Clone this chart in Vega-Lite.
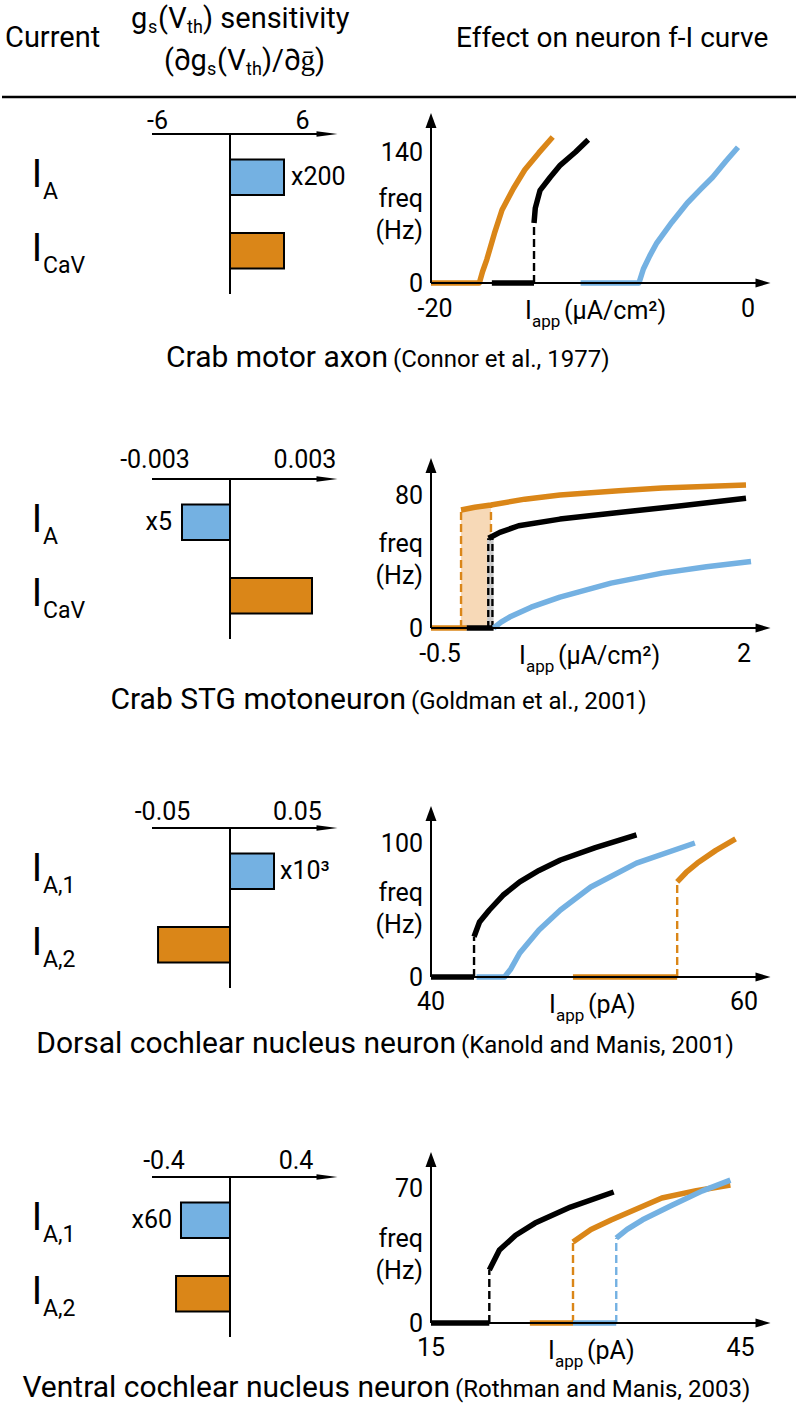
{
"$schema": "https://vega.github.io/schema/vega-lite/v6.json",
"padding": 0,
"background": "white",
"bounds": "flush",
"spacing": 0,
"resolve": {"scale": {"color": "independent"}},
"config": {"view": {"stroke": null}, "font": "Roboto", "axis": {"disable": true}, "legend": {"disable": true}, "text": {"font": "Roboto", "color": "black"}},
"vconcat": [
{
 "width": 796, "height": 134,
 "data": {"values": [{}]},
 "layer": [
  {"mark": {"type": "rule", "strokeWidth": 2.5, "color": "black"}, "encoding": {"y": {"datum": 0.72388, "type": "quantitative", "scale": {"domain": [0, 1], "reverse": true, "nice": false, "zero": false}}}},
  {"mark": {"type": "text", "text": "Current", "align": "left", "baseline": "alphabetic", "fontSize": 29}, "encoding": {"x": {"datum": 0.00377, "type": "quantitative", "scale": {"domain": [0, 1], "nice": false, "zero": false}}, "y": {"datum": 0.35075, "type": "quantitative"}}},
  {"mark": {"type": "text", "text": "g", "align": "left", "baseline": "alphabetic", "fontSize": 29}, "encoding": {"x": {"datum": 0.16206, "type": "quantitative"}, "y": {"datum": 0.20896, "type": "quantitative"}}},
  {"mark": {"type": "text", "text": "s", "align": "left", "baseline": "alphabetic", "fontSize": 18}, "encoding": {"x": {"datum": 0.18342, "type": "quantitative"}, "y": {"datum": 0.24627, "type": "quantitative"}}},
  {"mark": {"type": "text", "text": "(V", "align": "left", "baseline": "alphabetic", "fontSize": 29}, "encoding": {"x": {"datum": 0.19598, "type": "quantitative"}, "y": {"datum": 0.20896, "type": "quantitative"}}},
  {"mark": {"type": "text", "text": "th", "align": "left", "baseline": "alphabetic", "fontSize": 18}, "encoding": {"x": {"datum": 0.23241, "type": "quantitative"}, "y": {"datum": 0.24627, "type": "quantitative"}}},
  {"mark": {"type": "text", "text": ") sensitivity", "align": "left", "baseline": "alphabetic", "fontSize": 29}, "encoding": {"x": {"datum": 0.25251, "type": "quantitative"}, "y": {"datum": 0.20896, "type": "quantitative"}}},
  {"mark": {"type": "text", "text": "(∂g", "align": "left", "baseline": "alphabetic", "fontSize": 29}, "encoding": {"x": {"datum": 0.20352, "type": "quantitative"}, "y": {"datum": 0.52239, "type": "quantitative"}}},
  {"mark": {"type": "text", "text": "s", "align": "left", "baseline": "alphabetic", "fontSize": 18}, "encoding": {"x": {"datum": 0.25754, "type": "quantitative"}, "y": {"datum": 0.55970, "type": "quantitative"}}},
  {"mark": {"type": "text", "text": "(V", "align": "left", "baseline": "alphabetic", "fontSize": 29}, "encoding": {"x": {"datum": 0.27010, "type": "quantitative"}, "y": {"datum": 0.52239, "type": "quantitative"}}},
  {"mark": {"type": "text", "text": "th", "align": "left", "baseline": "alphabetic", "fontSize": 18}, "encoding": {"x": {"datum": 0.30653, "type": "quantitative"}, "y": {"datum": 0.55970, "type": "quantitative"}}},
  {"mark": {"type": "text", "text": ")/∂ḡ)", "align": "left", "baseline": "alphabetic", "fontSize": 29}, "encoding": {"x": {"datum": 0.32663, "type": "quantitative"}, "y": {"datum": 0.52239, "type": "quantitative"}}},
  {"mark": {"type": "text", "text": "Effect on neuron f-I curve", "align": "left", "baseline": "alphabetic", "fontSize": 28}, "encoding": {"x": {"datum": 0.57035, "type": "quantitative"}, "y": {"datum": 0.35075, "type": "quantitative"}}}
 ]
},
{
 "width": 796, "height": 160,
 "resolve": {"scale": {"x": "independent", "y": "independent", "color": "independent"}},
 "layer": [
  {
   "resolve": {"scale": {"y": "independent"}},
   "layer": [
    {
     "data": {"values": [{"c": "A", "v": 4.47, "m": "x200"}, {"c": "CaV", "v": 4.47, "m": ""}]},
     "layer": [
      {"mark": {"type": "bar", "stroke": "black", "strokeWidth": 2, "opacity": 1},
       "encoding": {
        "x": {"field": "v", "type": "quantitative", "scale": {"domain": [-18.874, 47.020], "nice": false, "zero": false}},
        "x2": {"datum": 0},
        "y": {"field": "c", "type": "nominal", "scale": {"paddingInner": 0.517, "paddingOuter": 0.347}},
        "color": {"field": "c", "type": "nominal", "scale": {"domain": ["A", "CaV"], "range": ["#74b1e2", "#da8618"]}}
       }},
      {"mark": {"type": "text", "align": "left", "baseline": "middle", "dx": 7, "fontSize": 25},
       "encoding": {"x": {"field": "v", "type": "quantitative"}, "y": {"field": "c", "type": "nominal"}, "text": {"field": "m"}}},
      {"mark": {"type": "text", "text": "I", "align": "center", "baseline": "alphabetic", "dy": 10, "fontSize": 38},
       "encoding": {"x": {"datum": -15.977, "type": "quantitative"}, "y": {"field": "c", "type": "nominal"}}},
      {"mark": {"type": "text", "align": "left", "baseline": "alphabetic", "dy": 22, "fontSize": 23},
       "encoding": {"x": {"datum": -15.480, "type": "quantitative"}, "y": {"field": "c", "type": "nominal"}, "text": {"field": "c"}}}
     ]
    },
    {
     "layer": [
      {"data": {"values": [{}]}, "mark": {"type": "rule", "strokeWidth": 2}, "encoding": {"x": {"datum": 0, "type": "quantitative"}}},
      {"data": {"values": [{}]}, "mark": {"type": "rule", "strokeWidth": 2}, "encoding": {"x": {"datum": -6.457, "type": "quantitative"}, "x2": {"datum": 8.030}, "y": {"datum": 1, "type": "quantitative", "scale": {"domain": [0, 1], "nice": false, "zero": false}}}},
      {"data": {"values": [{}]}, "mark": {"type": "point", "shape": "M-1,-0.26L1,0L-1,0.26Z", "size": 441, "filled": true, "color": "black", "opacity": 1}, "encoding": {"x": {"datum": 8.030, "type": "quantitative"}, "y": {"datum": 1, "type": "quantitative"}}},
      {"data": {"values": [{"tick": -6}, {"tick": 6}]}, "mark": {"type": "text", "align": "center", "baseline": "alphabetic", "fontSize": 25, "dy": -5}, "encoding": {"x": {"field": "tick", "type": "quantitative"}, "y": {"datum": 1, "type": "quantitative"}, "text": {"field": "tick", "type": "nominal"}}}
     ]
    }
   ]
  },
  {
   "layer": [
    {"data": {"values": [
      {"s":"o","g":"1a","t":"s","x":-20,"y":0},{"s":"o","g":"1a","t":"s","x":-16.95,"y":0},{"s":"o","g":"1a","t":"s","x":-16.75,"y":12},{"s":"o","g":"1a","t":"s","x":-16.48,"y":25},{"s":"o","g":"1a","t":"s","x":-16.0,"y":53},{"s":"o","g":"1a","t":"s","x":-15.52,"y":78},{"s":"o","g":"1a","t":"s","x":-14.8,"y":101},{"s":"o","g":"1a","t":"s","x":-14.08,"y":121},{"s":"o","g":"1a","t":"s","x":-13.2,"y":139},{"s":"o","g":"1a","t":"s","x":-12.32,"y":156},
      {"s":"k","g":"2a","t":"s","x":-16.16,"y":0},{"s":"k","g":"2a","t":"s","x":-13.5,"y":0},
      {"s":"k","g":"2b","t":"d","x":-13.5,"y":0},{"s":"k","g":"2b","t":"d","x":-13.5,"y":64},
      {"s":"k","g":"2c","t":"s","x":-13.5,"y":64},{"s":"k","g":"2c","t":"s","x":-13.42,"y":80},{"s":"k","g":"2c","t":"s","x":-13.12,"y":99},{"s":"k","g":"2c","t":"s","x":-12.48,"y":113},{"s":"k","g":"2c","t":"s","x":-11.84,"y":126},{"s":"k","g":"2c","t":"s","x":-10.88,"y":140},{"s":"k","g":"2c","t":"s","x":-10.08,"y":153},
      {"s":"b","g":"3a","t":"s","x":-10.56,"y":0},{"s":"b","g":"3a","t":"s","x":-6.88,"y":0},{"s":"b","g":"3a","t":"s","x":-6.6,"y":15},{"s":"b","g":"3a","t":"s","x":-6.2,"y":29},{"s":"b","g":"3a","t":"s","x":-5.75,"y":43},{"s":"b","g":"3a","t":"s","x":-4.8,"y":65},{"s":"b","g":"3a","t":"s","x":-3.83,"y":85.5},{"s":"b","g":"3a","t":"s","x":-3.0,"y":100},{"s":"b","g":"3a","t":"s","x":-2.23,"y":113},{"s":"b","g":"3a","t":"s","x":-1.4,"y":130},{"s":"b","g":"3a","t":"s","x":-0.63,"y":145}
     ]},
     "layer": [
      {"transform": [{"filter": "datum.t == 'd'"}], "mark": {"type": "line", "strokeWidth": 2.4, "strokeDash": [8, 4]},
       "encoding": {"x": {"field": "x", "type": "quantitative", "scale": {"domain": [-47.066, 3.155], "nice": false, "zero": false}}, "y": {"field": "y", "type": "quantitative", "scale": {"domain": [-11.752, 159.188], "nice": false, "zero": false}}, "color": {"field": "s", "type": "nominal", "scale": {"domain": ["o", "k", "b"], "range": ["#da8618", "#000000", "#74b1e2"]}}, "detail": {"field": "g"}}},
      {"transform": [{"filter": "datum.t == 's'"}], "mark": {"type": "line", "strokeWidth": 5.5, "strokeCap": "butt", "strokeJoin": "round"},
       "encoding": {"x": {"field": "x", "type": "quantitative"}, "y": {"field": "y", "type": "quantitative"}, "color": {"field": "s", "type": "nominal"}, "detail": {"field": "g"}}}
     ]},
    {"data": {"values": [{}]},
     "layer": [
      {"mark": {"type": "rule", "strokeWidth": 2}, "encoding": {"x": {"datum": -20, "type": "quantitative"}, "x2": {"datum": 0.946}, "y": {"datum": 0, "type": "quantitative"}}},
      {"mark": {"type": "rule", "strokeWidth": 2}, "encoding": {"x": {"datum": -20, "type": "quantitative"}, "y": {"datum": 0, "type": "quantitative"}, "y2": {"datum": 173.6}}},
      {"mark": {"type": "point", "shape": "M-1,-0.6L1,0L-1,0.6Z", "size": 225, "filled": true, "color": "black", "opacity": 1}, "encoding": {"x": {"datum": 0.946, "type": "quantitative"}, "y": {"datum": 0, "type": "quantitative"}}},
      {"mark": {"type": "point", "shape": "M-0.73,1L0,-1L0.73,1Z", "size": 225, "filled": true, "color": "black", "opacity": 1}, "encoding": {"x": {"datum": -20, "type": "quantitative"}, "y": {"datum": 173.6, "type": "quantitative"}}},
      {"mark": {"type": "text", "text": "freq", "align": "right", "baseline": "alphabetic", "fontSize": 25}, "encoding": {"x": {"datum": -20.505, "type": "quantitative"}, "y": {"datum": 81.2, "type": "quantitative"}}},
      {"mark": {"type": "text", "text": "(Hz)", "align": "right", "baseline": "alphabetic", "fontSize": 25}, "encoding": {"x": {"datum": -20.505, "type": "quantitative"}, "y": {"datum": 47.0, "type": "quantitative"}}},
      {"mark": {"type": "text", "text": "I", "align": "left", "baseline": "alphabetic", "fontSize": 25}, "encoding": {"x": {"datum": -14.069, "type": "quantitative"}, "y": {"datum": -38.46, "type": "quantitative"}}},
      {"mark": {"type": "text", "text": "app", "align": "left", "baseline": "alphabetic", "fontSize": 17}, "encoding": {"x": {"datum": -13.628, "type": "quantitative"}, "y": {"datum": -47.0, "type": "quantitative"}}},
      {"mark": {"type": "text", "text": "(μA/cm²)", "align": "left", "baseline": "alphabetic", "fontSize": 25}, "encoding": {"x": {"datum": -11.609, "type": "quantitative"}, "y": {"datum": -38.46, "type": "quantitative"}}}
     ]},
    {"data": {"values": [{"tick": -20}]}, "mark": {"type": "text", "align": "center", "baseline": "alphabetic", "fontSize": 25, "dy": 34, "dx": 4}, "encoding": {"x": {"field": "tick", "type": "quantitative"}, "y": {"datum": 0, "type": "quantitative"}, "text": {"field": "tick", "type": "nominal"}}},
    {"data": {"values": [{"tick": 0}]}, "mark": {"type": "text", "align": "center", "baseline": "alphabetic", "fontSize": 25, "dy": 34}, "encoding": {"x": {"field": "tick", "type": "quantitative"}, "y": {"datum": 0, "type": "quantitative"}, "text": {"field": "tick", "type": "nominal"}}},
    {"data": {"values": [{"tick": 0}, {"tick": 140}]}, "mark": {"type": "text", "align": "right", "baseline": "alphabetic", "fontSize": 25, "dx": -8, "dy": 9}, "encoding": {"x": {"datum": -20, "type": "quantitative"}, "y": {"field": "tick", "type": "quantitative"}, "text": {"field": "tick", "type": "nominal"}}}
   ]
  }
 ]
},
{
 "width": 796, "height": 185,
 "data": {"values": [{"big": "Crab motor axon", "small": "(Connor et al., 1977)"}]},
 "layer": [
  {"mark": {"type": "text", "align": "right", "baseline": "alphabetic", "fontSize": 30}, "encoding": {"x": {"datum": 0.48492, "type": "quantitative", "scale": {"domain": [0, 1], "nice": false, "zero": false}}, "y": {"datum": 0.39459, "type": "quantitative", "scale": {"domain": [0, 1], "reverse": true, "nice": false, "zero": false}}, "text": {"field": "big"}}},
  {"mark": {"type": "text", "align": "left", "baseline": "alphabetic", "fontSize": 24}, "encoding": {"x": {"datum": 0.49121, "type": "quantitative"}, "y": {"datum": 0.39459, "type": "quantitative"}, "text": {"field": "small"}}}
 ]
},
{
 "width": 796, "height": 160,
 "resolve": {"scale": {"x": "independent", "y": "independent", "color": "independent"}},
 "layer": [
  {
   "resolve": {"scale": {"y": "independent"}},
   "layer": [
    {
     "data": {"values": [{"c": "A", "v": -0.00192, "m": "x5"}, {"c": "CaV", "v": 0.00328, "m": ""}]},
     "layer": [
      {"mark": {"type": "bar", "stroke": "black", "strokeWidth": 2, "opacity": 1},
       "encoding": {
        "x": {"field": "v", "type": "quantitative", "scale": {"domain": [-0.00912, 0.02272], "nice": false, "zero": false}},
        "x2": {"datum": 0},
        "y": {"field": "c", "type": "nominal", "scale": {"paddingInner": 0.517, "paddingOuter": 0.347}},
        "color": {"field": "c", "type": "nominal", "scale": {"domain": ["A", "CaV"], "range": ["#74b1e2", "#da8618"]}}
       }},
      {"mark": {"type": "text", "align": "right", "baseline": "middle", "dx": -10, "fontSize": 25},
       "encoding": {"x": {"field": "v", "type": "quantitative"}, "y": {"field": "c", "type": "nominal"}, "text": {"field": "m"}}},
      {"mark": {"type": "text", "text": "I", "align": "center", "baseline": "alphabetic", "dy": 10, "fontSize": 38},
       "encoding": {"x": {"datum": -0.00772, "type": "quantitative"}, "y": {"field": "c", "type": "nominal"}}},
      {"mark": {"type": "text", "align": "left", "baseline": "alphabetic", "dy": 22, "fontSize": 23},
       "encoding": {"x": {"datum": -0.00748, "type": "quantitative"}, "y": {"field": "c", "type": "nominal"}, "text": {"field": "c"}}}
     ]
    },
    {
     "layer": [
      {"data": {"values": [{}]}, "mark": {"type": "rule", "strokeWidth": 2}, "encoding": {"x": {"datum": 0, "type": "quantitative"}}},
      {"data": {"values": [{}]}, "mark": {"type": "rule", "strokeWidth": 2}, "encoding": {"x": {"datum": -0.00312, "type": "quantitative"}, "x2": {"datum": 0.00388}, "y": {"datum": 1, "type": "quantitative", "scale": {"domain": [0, 1], "nice": false, "zero": false}}}},
      {"data": {"values": [{}]}, "mark": {"type": "point", "shape": "M-1,-0.26L1,0L-1,0.26Z", "size": 441, "filled": true, "color": "black", "opacity": 1}, "encoding": {"x": {"datum": 0.00388, "type": "quantitative"}, "y": {"datum": 1, "type": "quantitative"}}},
      {"data": {"values": [{"tick": -0.003}, {"tick": 0.003}]}, "mark": {"type": "text", "align": "center", "baseline": "alphabetic", "fontSize": 25, "dy": -11}, "encoding": {"x": {"field": "tick", "type": "quantitative"}, "y": {"datum": 1, "type": "quantitative"}, "text": {"field": "tick", "type": "nominal"}}}
     ]
    }
   ]
  },
  {
   "layer": [
    {"data": {"values": [{"x": -0.26, "y": 71}, {"x": -0.15, "y": 72.6}, {"x": -0.021, "y": 74}]},
     "mark": {"type": "area", "fill": "#f7d9b7", "opacity": 1, "fillOpacity": 1},
     "encoding": {"x": {"field": "x", "type": "quantitative"}, "y": {"field": "y", "type": "quantitative"}, "y2": {"datum": 0}}},
    {"data": {"values": [
      {"s":"o","g":"1a","t":"s","x":-0.5,"y":0},{"s":"o","g":"1a","t":"s","x":-0.215,"y":0},
      {"s":"o","g":"1b","t":"d","x":-0.26,"y":0},{"s":"o","g":"1b","t":"d","x":-0.26,"y":71},
      {"s":"o","g":"1c","t":"d","x":-0.021,"y":0},{"s":"o","g":"1c","t":"d","x":-0.021,"y":74},
      {"s":"o","g":"1d","t":"s","x":-0.26,"y":71},{"s":"o","g":"1d","t":"s","x":-0.15,"y":72.6},{"s":"o","g":"1d","t":"s","x":-0.021,"y":74},{"s":"o","g":"1d","t":"s","x":0.25,"y":77.5},{"s":"o","g":"1d","t":"s","x":0.53,"y":80},{"s":"o","g":"1d","t":"s","x":1.0,"y":82.5},{"s":"o","g":"1d","t":"s","x":1.345,"y":84.2},{"s":"o","g":"1d","t":"s","x":2.016,"y":86},
      {"s":"k","g":"2a","t":"s","x":-0.215,"y":0},{"s":"k","g":"2a","t":"s","x":0.0,"y":0},
      {"s":"k","g":"2b","t":"d","x":-0.026,"y":0},{"s":"k","g":"2b","t":"d","x":-0.026,"y":54},
      {"s":"k","g":"2c","t":"s","x":-0.04,"y":54},{"s":"k","g":"2c","t":"s","x":0.05,"y":57.5},{"s":"k","g":"2c","t":"s","x":0.2,"y":61.5},{"s":"k","g":"2c","t":"s","x":0.53,"y":65.5},{"s":"k","g":"2c","t":"s","x":1.0,"y":69.5},{"s":"k","g":"2c","t":"s","x":1.5,"y":73.5},{"s":"k","g":"2c","t":"s","x":2.016,"y":78},
      {"s":"b","g":"3a","t":"s","x":0.0,"y":0},{"s":"b","g":"3a","t":"s","x":0.06,"y":3.5},{"s":"b","g":"3a","t":"s","x":0.128,"y":6.6},{"s":"b","g":"3a","t":"s","x":0.3,"y":12.5},{"s":"b","g":"3a","t":"s","x":0.53,"y":18.6},{"s":"b","g":"3a","t":"s","x":0.938,"y":27},{"s":"b","g":"3a","t":"s","x":1.345,"y":33},{"s":"b","g":"3a","t":"s","x":1.7,"y":36.8},{"s":"b","g":"3a","t":"s","x":2.056,"y":40}
     ]},
     "layer": [
      {"transform": [{"filter": "datum.t == 'd' && datum.s == 'o'"}], "mark": {"type": "line", "strokeWidth": 2.4, "strokeDash": [8, 4]},
       "encoding": {"x": {"field": "x", "type": "quantitative", "scale": {"domain": [-3.9265, 2.4313], "nice": false, "zero": false}}, "y": {"field": "y", "type": "quantitative", "scale": {"domain": [-6.617, 89.624], "nice": false, "zero": false}}, "color": {"field": "s", "type": "nominal", "scale": {"domain": ["o", "k", "b"], "range": ["#da8618", "#000000", "#74b1e2"]}}, "detail": {"field": "g"}}},
      {"transform": [{"filter": "datum.t == 'd' && datum.s == 'k'"}], "mark": {"type": "line", "strokeWidth": 6.5, "color": "#cccccc"},
       "encoding": {"x": {"field": "x", "type": "quantitative"}, "y": {"field": "y", "type": "quantitative"}, "detail": {"field": "g"}}},
      {"transform": [{"filter": "datum.t == 'd' && datum.s == 'k'"}], "mark": {"type": "line", "strokeWidth": 6.5, "strokeDash": [7, 4], "color": "#000000"},
       "encoding": {"x": {"field": "x", "type": "quantitative"}, "y": {"field": "y", "type": "quantitative"}, "detail": {"field": "g"}}},
      {"transform": [{"filter": "datum.t == 'd' && datum.s == 'k'"}], "mark": {"type": "line", "strokeWidth": 1.8, "color": "#cccccc"},
       "encoding": {"x": {"field": "x", "type": "quantitative"}, "y": {"field": "y", "type": "quantitative"}, "detail": {"field": "g"}}},
      {"transform": [{"filter": "datum.t == 's'"}], "mark": {"type": "line", "strokeWidth": 5.5, "strokeCap": "butt", "strokeJoin": "round"},
       "encoding": {"x": {"field": "x", "type": "quantitative"}, "y": {"field": "y", "type": "quantitative"}, "color": {"field": "s", "type": "nominal"}, "detail": {"field": "g"}}}
     ]},
    {"data": {"values": [{}]},
     "layer": [
      {"mark": {"type": "rule", "strokeWidth": 2}, "encoding": {"x": {"datum": -0.5, "type": "quantitative"}, "x2": {"datum": 2.152}, "y": {"datum": 0, "type": "quantitative"}}},
      {"mark": {"type": "rule", "strokeWidth": 2}, "encoding": {"x": {"datum": -0.5, "type": "quantitative"}, "y": {"datum": 0, "type": "quantitative"}, "y2": {"datum": 97.74}}},
      {"mark": {"type": "point", "shape": "M-1,-0.6L1,0L-1,0.6Z", "size": 225, "filled": true, "color": "black", "opacity": 1}, "encoding": {"x": {"datum": 2.152, "type": "quantitative"}, "y": {"datum": 0, "type": "quantitative"}}},
      {"mark": {"type": "point", "shape": "M-0.73,1L0,-1L0.73,1Z", "size": 225, "filled": true, "color": "black", "opacity": 1}, "encoding": {"x": {"datum": -0.5, "type": "quantitative"}, "y": {"datum": 97.74, "type": "quantitative"}}},
      {"mark": {"type": "text", "text": "freq", "align": "right", "baseline": "alphabetic", "fontSize": 25}, "encoding": {"x": {"datum": -0.5639, "type": "quantitative"}, "y": {"datum": 45.7, "type": "quantitative"}}},
      {"mark": {"type": "text", "text": "(Hz)", "align": "right", "baseline": "alphabetic", "fontSize": 25}, "encoding": {"x": {"datum": -0.5639, "type": "quantitative"}, "y": {"datum": 26.5, "type": "quantitative"}}},
      {"mark": {"type": "text", "text": "I", "align": "left", "baseline": "alphabetic", "fontSize": 25}, "encoding": {"x": {"datum": 0.2029, "type": "quantitative"}, "y": {"datum": -21.65, "type": "quantitative"}}},
      {"mark": {"type": "text", "text": "app", "align": "left", "baseline": "alphabetic", "fontSize": 17}, "encoding": {"x": {"datum": 0.2588, "type": "quantitative"}, "y": {"datum": -26.47, "type": "quantitative"}}},
      {"mark": {"type": "text", "text": "(μA/cm²)", "align": "left", "baseline": "alphabetic", "fontSize": 25}, "encoding": {"x": {"datum": 0.5144, "type": "quantitative"}, "y": {"datum": -21.65, "type": "quantitative"}}}
     ]},
    {"data": {"values": [{"tick": -0.5}]}, "mark": {"type": "text", "align": "center", "baseline": "alphabetic", "fontSize": 25, "dy": 34, "dx": 9}, "encoding": {"x": {"field": "tick", "type": "quantitative"}, "y": {"datum": 0, "type": "quantitative"}, "text": {"field": "tick", "type": "nominal"}}},
    {"data": {"values": [{"tick": 2}]}, "mark": {"type": "text", "align": "center", "baseline": "alphabetic", "fontSize": 25, "dy": 34}, "encoding": {"x": {"field": "tick", "type": "quantitative"}, "y": {"datum": 0, "type": "quantitative"}, "text": {"field": "tick", "type": "nominal"}}},
    {"data": {"values": [{"tick": 0}, {"tick": 80}]}, "mark": {"type": "text", "align": "right", "baseline": "alphabetic", "fontSize": 25, "dx": -8, "dy": 9}, "encoding": {"x": {"datum": -0.5, "type": "quantitative"}, "y": {"field": "tick", "type": "quantitative"}, "text": {"field": "tick", "type": "nominal"}}}
   ]
  }
 ]
},
{
 "width": 796, "height": 189,
 "data": {"values": [{"big": "Crab STG motoneuron", "small": "(Goldman et al., 2001)"}]},
 "layer": [
  {"mark": {"type": "text", "align": "right", "baseline": "alphabetic", "fontSize": 30}, "encoding": {"x": {"datum": 0.50754, "type": "quantitative", "scale": {"domain": [0, 1], "nice": false, "zero": false}}, "y": {"datum": 0.37037, "type": "quantitative", "scale": {"domain": [0, 1], "reverse": true, "nice": false, "zero": false}}, "text": {"field": "big"}}},
  {"mark": {"type": "text", "align": "left", "baseline": "alphabetic", "fontSize": 24}, "encoding": {"x": {"datum": 0.51382, "type": "quantitative"}, "y": {"datum": 0.37037, "type": "quantitative"}, "text": {"field": "small"}}}
 ]
},
{
 "width": 796, "height": 160,
 "resolve": {"scale": {"x": "independent", "y": "independent", "color": "independent"}},
 "layer": [
  {
   "resolve": {"scale": {"y": "independent"}},
   "layer": [
    {
     "data": {"values": [{"c": "A,1", "v": 0.0326, "m": "x10³"}, {"c": "A,2", "v": -0.0533, "m": ""}]},
     "layer": [
      {"mark": {"type": "bar", "stroke": "black", "strokeWidth": 2, "opacity": 1},
       "encoding": {
        "x": {"field": "v", "type": "quantitative", "scale": {"domain": [-0.168889, 0.420741], "nice": false, "zero": false}},
        "x2": {"datum": 0},
        "y": {"field": "c", "type": "nominal", "scale": {"paddingInner": 0.517, "paddingOuter": 0.347}},
        "color": {"field": "c", "type": "nominal", "scale": {"domain": ["A,1", "A,2"], "range": ["#74b1e2", "#da8618"]}}
       }},
      {"mark": {"type": "text", "align": "left", "baseline": "middle", "dx": 6, "fontSize": 25},
       "encoding": {"x": {"field": "v", "type": "quantitative"}, "y": {"field": "c", "type": "nominal"}, "text": {"field": "m"}}},
      {"mark": {"type": "text", "text": "I", "align": "center", "baseline": "alphabetic", "dy": 10, "fontSize": 38},
       "encoding": {"x": {"datum": -0.142963, "type": "quantitative"}, "y": {"field": "c", "type": "nominal"}}},
      {"mark": {"type": "text", "align": "left", "baseline": "alphabetic", "dy": 22, "fontSize": 23},
       "encoding": {"x": {"datum": -0.138519, "type": "quantitative"}, "y": {"field": "c", "type": "nominal"}, "text": {"field": "c"}}}
     ]
    },
    {
     "layer": [
      {"data": {"values": [{}]}, "mark": {"type": "rule", "strokeWidth": 2}, "encoding": {"x": {"datum": 0, "type": "quantitative"}}},
      {"data": {"values": [{}]}, "mark": {"type": "rule", "strokeWidth": 2}, "encoding": {"x": {"datum": -0.057778, "type": "quantitative"}, "x2": {"datum": 0.071852}, "y": {"datum": 1, "type": "quantitative", "scale": {"domain": [0, 1], "nice": false, "zero": false}}}},
      {"data": {"values": [{}]}, "mark": {"type": "point", "shape": "M-1,-0.26L1,0L-1,0.26Z", "size": 441, "filled": true, "color": "black", "opacity": 1}, "encoding": {"x": {"datum": 0.071852, "type": "quantitative"}, "y": {"datum": 1, "type": "quantitative"}}},
      {"data": {"values": [{"tick": -0.05}, {"tick": 0.05}]}, "mark": {"type": "text", "align": "center", "baseline": "alphabetic", "fontSize": 25, "dy": -8}, "encoding": {"x": {"field": "tick", "type": "quantitative"}, "y": {"datum": 1, "type": "quantitative"}, "text": {"field": "tick", "type": "nominal"}}}
     ]
    }
   ]
  },
  {
   "layer": [
    {"data": {"values": [
      {"s":"o","g":"1a","t":"s","x":49.07,"y":0},{"s":"o","g":"1a","t":"s","x":55.73,"y":0},
      {"s":"o","g":"1b","t":"d","x":55.73,"y":0},{"s":"o","g":"1b","t":"d","x":55.73,"y":71},
      {"s":"o","g":"1c","t":"s","x":55.73,"y":71},{"s":"o","g":"1c","t":"s","x":56.3,"y":78},{"s":"o","g":"1c","t":"s","x":57.02,"y":85},{"s":"o","g":"1c","t":"s","x":58.2,"y":94.5},{"s":"o","g":"1c","t":"s","x":59.46,"y":103},
      {"s":"k","g":"2a","t":"s","x":40,"y":0},{"s":"k","g":"2a","t":"s","x":42.75,"y":0},
      {"s":"k","g":"2b","t":"d","x":42.75,"y":0},{"s":"k","g":"2b","t":"d","x":42.75,"y":30},
      {"s":"k","g":"2c","t":"s","x":42.75,"y":30},{"s":"k","g":"2c","t":"s","x":43.1,"y":41},{"s":"k","g":"2c","t":"s","x":43.73,"y":50},{"s":"k","g":"2c","t":"s","x":44.6,"y":61},{"s":"k","g":"2c","t":"s","x":45.67,"y":71},{"s":"k","g":"2c","t":"s","x":46.9,"y":79.5},{"s":"k","g":"2c","t":"s","x":48.27,"y":87.3},{"s":"k","g":"2c","t":"s","x":50.5,"y":96.5},{"s":"k","g":"2c","t":"s","x":53.13,"y":106},
      {"s":"b","g":"3a","t":"s","x":42.91,"y":0},{"s":"b","g":"3a","t":"s","x":44.7,"y":0},{"s":"b","g":"3a","t":"s","x":45.1,"y":6},{"s":"b","g":"3a","t":"s","x":45.67,"y":17.9},{"s":"b","g":"3a","t":"s","x":46.9,"y":35},{"s":"b","g":"3a","t":"s","x":48.27,"y":50},{"s":"b","g":"3a","t":"s","x":50.21,"y":67.2},{"s":"b","g":"3a","t":"s","x":53.13,"y":85},{"s":"b","g":"3a","t":"s","x":56.86,"y":100}
     ]},
     "layer": [
      {"transform": [{"filter": "datum.t == 'd'"}], "mark": {"type": "line", "strokeWidth": 2.4, "strokeDash": [8, 4]},
       "encoding": {"x": {"field": "x", "type": "quantitative", "scale": {"domain": [12.588, 63.450], "nice": false, "zero": false}}, "y": {"field": "y", "type": "quantitative", "scale": {"domain": [-8.209, 111.194], "nice": false, "zero": false}}, "color": {"field": "s", "type": "nominal", "scale": {"domain": ["o", "k", "b"], "range": ["#da8618", "#000000", "#74b1e2"]}}, "detail": {"field": "g"}}},
      {"transform": [{"filter": "datum.t == 's'"}], "mark": {"type": "line", "strokeWidth": 5.5, "strokeCap": "butt", "strokeJoin": "round"},
       "encoding": {"x": {"field": "x", "type": "quantitative"}, "y": {"field": "y", "type": "quantitative"}, "color": {"field": "s", "type": "nominal"}, "detail": {"field": "g"}}}
     ]},
    {"data": {"values": [{}]},
     "layer": [
      {"mark": {"type": "rule", "strokeWidth": 2}, "encoding": {"x": {"datum": 40, "type": "quantitative"}, "x2": {"datum": 61.214}, "y": {"datum": 0, "type": "quantitative"}}},
      {"mark": {"type": "rule", "strokeWidth": 2}, "encoding": {"x": {"datum": 40, "type": "quantitative"}, "y": {"datum": 0, "type": "quantitative"}, "y2": {"datum": 122.0}}},
      {"mark": {"type": "point", "shape": "M-1,-0.6L1,0L-1,0.6Z", "size": 225, "filled": true, "color": "black", "opacity": 1}, "encoding": {"x": {"datum": 61.214, "type": "quantitative"}, "y": {"datum": 0, "type": "quantitative"}}},
      {"mark": {"type": "point", "shape": "M-0.73,1L0,-1L0.73,1Z", "size": 225, "filled": true, "color": "black", "opacity": 1}, "encoding": {"x": {"datum": 40, "type": "quantitative"}, "y": {"datum": 122.0, "type": "quantitative"}}},
      {"mark": {"type": "text", "text": "freq", "align": "right", "baseline": "alphabetic", "fontSize": 25}, "encoding": {"x": {"datum": 39.489, "type": "quantitative"}, "y": {"datum": 56.7, "type": "quantitative"}}},
      {"mark": {"type": "text", "text": "(Hz)", "align": "right", "baseline": "alphabetic", "fontSize": 25}, "encoding": {"x": {"datum": 39.489, "type": "quantitative"}, "y": {"datum": 32.8, "type": "quantitative"}}},
      {"mark": {"type": "text", "text": "I", "align": "left", "baseline": "alphabetic", "fontSize": 25}, "encoding": {"x": {"datum": 47.540, "type": "quantitative"}, "y": {"datum": -26.87, "type": "quantitative"}}},
      {"mark": {"type": "text", "text": "app", "align": "left", "baseline": "alphabetic", "fontSize": 17}, "encoding": {"x": {"datum": 47.987, "type": "quantitative"}, "y": {"datum": -32.84, "type": "quantitative"}}},
      {"mark": {"type": "text", "text": "(pA)", "align": "left", "baseline": "alphabetic", "fontSize": 25}, "encoding": {"x": {"datum": 50.032, "type": "quantitative"}, "y": {"datum": -26.87, "type": "quantitative"}}}
     ]},
    {"data": {"values": [{"tick": 40}, {"tick": 60}]}, "mark": {"type": "text", "align": "center", "baseline": "alphabetic", "fontSize": 25, "dy": 33}, "encoding": {"x": {"field": "tick", "type": "quantitative"}, "y": {"datum": 0, "type": "quantitative"}, "text": {"field": "tick", "type": "nominal"}}},
    {"data": {"values": [{"tick": 0}, {"tick": 100}]}, "mark": {"type": "text", "align": "right", "baseline": "alphabetic", "fontSize": 25, "dx": -8, "dy": 9}, "encoding": {"x": {"datum": 40, "type": "quantitative"}, "y": {"field": "tick", "type": "quantitative"}, "text": {"field": "tick", "type": "nominal"}}}
   ]
  }
 ]
},
{
 "width": 796, "height": 189,
 "data": {"values": [{"big": "Dorsal cochlear nucleus neuron", "small": "(Kanold and Manis, 2001)"}]},
 "layer": [
  {"mark": {"type": "text", "align": "right", "baseline": "alphabetic", "fontSize": 30}, "encoding": {"x": {"datum": 0.57035, "type": "quantitative", "scale": {"domain": [0, 1], "nice": false, "zero": false}}, "y": {"datum": 0.34392, "type": "quantitative", "scale": {"domain": [0, 1], "reverse": true, "nice": false, "zero": false}}, "text": {"field": "big"}}},
  {"mark": {"type": "text", "align": "left", "baseline": "alphabetic", "fontSize": 24}, "encoding": {"x": {"datum": 0.57663, "type": "quantitative"}, "y": {"datum": 0.34392, "type": "quantitative"}, "text": {"field": "small"}}}
 ]
},
{
 "width": 796, "height": 160,
 "resolve": {"scale": {"x": "independent", "y": "independent", "color": "independent"}},
 "layer": [
  {
   "resolve": {"scale": {"y": "independent"}},
   "layer": [
    {
     "data": {"values": [{"c": "A,1", "v": -0.297, "m": "x60"}, {"c": "A,2", "v": -0.327, "m": ""}]},
     "layer": [
      {"mark": {"type": "bar", "stroke": "black", "strokeWidth": 2, "opacity": 1},
       "encoding": {
        "x": {"field": "v", "type": "quantitative", "scale": {"domain": [-1.381818, 3.442424], "nice": false, "zero": false}},
        "x2": {"datum": 0},
        "y": {"field": "c", "type": "nominal", "scale": {"paddingInner": 0.517, "paddingOuter": 0.347}},
        "color": {"field": "c", "type": "nominal", "scale": {"domain": ["A,1", "A,2"], "range": ["#74b1e2", "#da8618"]}}
       }},
      {"mark": {"type": "text", "align": "right", "baseline": "middle", "dx": -9, "fontSize": 25},
       "encoding": {"x": {"field": "v", "type": "quantitative"}, "y": {"field": "c", "type": "nominal"}, "text": {"field": "m"}}},
      {"mark": {"type": "text", "text": "I", "align": "center", "baseline": "alphabetic", "dy": 10, "fontSize": 38},
       "encoding": {"x": {"datum": -1.169697, "type": "quantitative"}, "y": {"field": "c", "type": "nominal"}}},
      {"mark": {"type": "text", "align": "left", "baseline": "alphabetic", "dy": 22, "fontSize": 23},
       "encoding": {"x": {"datum": -1.133333, "type": "quantitative"}, "y": {"field": "c", "type": "nominal"}, "text": {"field": "c"}}}
     ]
    },
    {
     "layer": [
      {"data": {"values": [{}]}, "mark": {"type": "rule", "strokeWidth": 2}, "encoding": {"x": {"datum": 0, "type": "quantitative"}}},
      {"data": {"values": [{}]}, "mark": {"type": "rule", "strokeWidth": 2}, "encoding": {"x": {"datum": -0.472727, "type": "quantitative"}, "x2": {"datum": 0.587879}, "y": {"datum": 1, "type": "quantitative", "scale": {"domain": [0, 1], "nice": false, "zero": false}}}},
      {"data": {"values": [{}]}, "mark": {"type": "point", "shape": "M-1,-0.26L1,0L-1,0.26Z", "size": 441, "filled": true, "color": "black", "opacity": 1}, "encoding": {"x": {"datum": 0.587879, "type": "quantitative"}, "y": {"datum": 1, "type": "quantitative"}}},
      {"data": {"values": [{"tick": -0.4}, {"tick": 0.4}]}, "mark": {"type": "text", "align": "center", "baseline": "alphabetic", "fontSize": 25, "dy": -8}, "encoding": {"x": {"field": "tick", "type": "quantitative"}, "y": {"datum": 1, "type": "quantitative"}, "text": {"field": "tick", "type": "nominal"}}}
     ]
    }
   ]
  },
  {
   "layer": [
    {"data": {"values": [
      {"s":"o","g":"1a","t":"s","x":24.58,"y":0},{"s":"o","g":"1a","t":"s","x":28.76,"y":0},
      {"s":"o","g":"1b","t":"d","x":28.76,"y":0},{"s":"o","g":"1b","t":"d","x":28.76,"y":42},
      {"s":"o","g":"1c","t":"s","x":28.76,"y":42},{"s":"o","g":"1c","t":"s","x":30.5,"y":48.5},{"s":"o","g":"1c","t":"s","x":32.45,"y":53.4},{"s":"o","g":"1c","t":"s","x":37.37,"y":64.8},{"s":"o","g":"1c","t":"s","x":40.7,"y":68.6},{"s":"o","g":"1c","t":"s","x":44.01,"y":71.5},
      {"s":"k","g":"2a","t":"s","x":15,"y":0},{"s":"k","g":"2a","t":"s","x":20.65,"y":0},
      {"s":"k","g":"2b","t":"d","x":20.65,"y":0},{"s":"k","g":"2b","t":"d","x":20.65,"y":27.5},
      {"s":"k","g":"2c","t":"s","x":20.65,"y":27.5},{"s":"k","g":"2c","t":"s","x":21.63,"y":37.8},{"s":"k","g":"2c","t":"s","x":23.2,"y":45.5},{"s":"k","g":"2c","t":"s","x":25.08,"y":51.8},{"s":"k","g":"2c","t":"s","x":28.52,"y":60.1},{"s":"k","g":"2c","t":"s","x":32.7,"y":67.9},
      {"s":"b","g":"3a","t":"s","x":28.76,"y":0},{"s":"b","g":"3a","t":"s","x":32.95,"y":0},
      {"s":"b","g":"3b","t":"d","x":32.95,"y":0},{"s":"b","g":"3b","t":"d","x":32.95,"y":44},
      {"s":"b","g":"3c","t":"s","x":32.95,"y":44},{"s":"b","g":"3c","t":"s","x":34.0,"y":48.5},{"s":"b","g":"3c","t":"s","x":35.5,"y":53.5},{"s":"b","g":"3c","t":"s","x":38.35,"y":61},{"s":"b","g":"3c","t":"s","x":41.3,"y":68.5},{"s":"b","g":"3c","t":"s","x":44.01,"y":74.1}
     ]},
     "layer": [
      {"transform": [{"filter": "datum.t == 'd'"}], "mark": {"type": "line", "strokeWidth": 2.4, "strokeDash": [8, 4]},
       "encoding": {"x": {"field": "x", "type": "quantitative", "scale": {"domain": [-26.570, 50.562], "nice": false, "zero": false}}, "y": {"field": "y", "type": "quantitative", "scale": {"domain": [-7.258, 75.687], "nice": false, "zero": false}}, "color": {"field": "s", "type": "nominal", "scale": {"domain": ["o", "k", "b"], "range": ["#da8618", "#000000", "#74b1e2"]}}, "detail": {"field": "g"}}},
      {"transform": [{"filter": "datum.t == 's'"}], "mark": {"type": "line", "strokeWidth": 5.5, "strokeCap": "butt", "strokeJoin": "round"},
       "encoding": {"x": {"field": "x", "type": "quantitative"}, "y": {"field": "y", "type": "quantitative"}, "color": {"field": "s", "type": "nominal"}, "detail": {"field": "g"}}}
     ]},
    {"data": {"values": [{}]},
     "layer": [
      {"mark": {"type": "rule", "strokeWidth": 2}, "encoding": {"x": {"datum": 15, "type": "quantitative"}, "x2": {"datum": 47.171}, "y": {"datum": 0, "type": "quantitative"}}},
      {"mark": {"type": "rule", "strokeWidth": 2}, "encoding": {"x": {"datum": 15, "type": "quantitative"}, "y": {"datum": 0, "type": "quantitative"}, "y2": {"datum": 84.76}}},
      {"mark": {"type": "point", "shape": "M-1,-0.6L1,0L-1,0.6Z", "size": 225, "filled": true, "color": "black", "opacity": 1}, "encoding": {"x": {"datum": 47.171, "type": "quantitative"}, "y": {"datum": 0, "type": "quantitative"}}},
      {"mark": {"type": "point", "shape": "M-0.73,1L0,-1L0.73,1Z", "size": 225, "filled": true, "color": "black", "opacity": 1}, "encoding": {"x": {"datum": 15, "type": "quantitative"}, "y": {"datum": 84.76, "type": "quantitative"}}},
      {"mark": {"type": "text", "text": "freq", "align": "right", "baseline": "alphabetic", "fontSize": 25}, "encoding": {"x": {"datum": 14.225, "type": "quantitative"}, "y": {"datum": 39.4, "type": "quantitative"}}},
      {"mark": {"type": "text", "text": "(Hz)", "align": "right", "baseline": "alphabetic", "fontSize": 25}, "encoding": {"x": {"datum": 14.225, "type": "quantitative"}, "y": {"datum": 22.8, "type": "quantitative"}}},
      {"mark": {"type": "text", "text": "I", "align": "left", "baseline": "alphabetic", "fontSize": 25}, "encoding": {"x": {"datum": 26.337, "type": "quantitative"}, "y": {"datum": -18.66, "type": "quantitative"}}},
      {"mark": {"type": "text", "text": "app", "align": "left", "baseline": "alphabetic", "fontSize": 17}, "encoding": {"x": {"datum": 27.016, "type": "quantitative"}, "y": {"datum": -22.81, "type": "quantitative"}}},
      {"mark": {"type": "text", "text": "(pA)", "align": "left", "baseline": "alphabetic", "fontSize": 25}, "encoding": {"x": {"datum": 30.116, "type": "quantitative"}, "y": {"datum": -18.66, "type": "quantitative"}}}
     ]},
    {"data": {"values": [{"tick": 15}, {"tick": 45}]}, "mark": {"type": "text", "align": "center", "baseline": "alphabetic", "fontSize": 25, "dy": 33}, "encoding": {"x": {"field": "tick", "type": "quantitative"}, "y": {"datum": 0, "type": "quantitative"}, "text": {"field": "tick", "type": "nominal"}}},
    {"data": {"values": [{"tick": 0}, {"tick": 70}]}, "mark": {"type": "text", "align": "right", "baseline": "alphabetic", "fontSize": 25, "dx": -8, "dy": 9}, "encoding": {"x": {"datum": 15, "type": "quantitative"}, "y": {"field": "tick", "type": "quantitative"}, "text": {"field": "tick", "type": "nominal"}}}
   ]
  }
 ]
},
{
 "width": 796, "height": 69,
 "data": {"values": [{"big": "Ventral cochlear nucleus neuron", "small": "(Rothman and Manis, 2003)"}]},
 "layer": [
  {"mark": {"type": "text", "align": "right", "baseline": "alphabetic", "fontSize": 30}, "encoding": {"x": {"datum": 0.56281, "type": "quantitative", "scale": {"domain": [0, 1], "nice": false, "zero": false}}, "y": {"datum": 0.86957, "type": "quantitative", "scale": {"domain": [0, 1], "reverse": true, "nice": false, "zero": false}}, "text": {"field": "big"}}},
  {"mark": {"type": "text", "align": "left", "baseline": "alphabetic", "fontSize": 24}, "encoding": {"x": {"datum": 0.56910, "type": "quantitative"}, "y": {"datum": 0.86957, "type": "quantitative"}, "text": {"field": "small"}}}
 ]
}
]
}
